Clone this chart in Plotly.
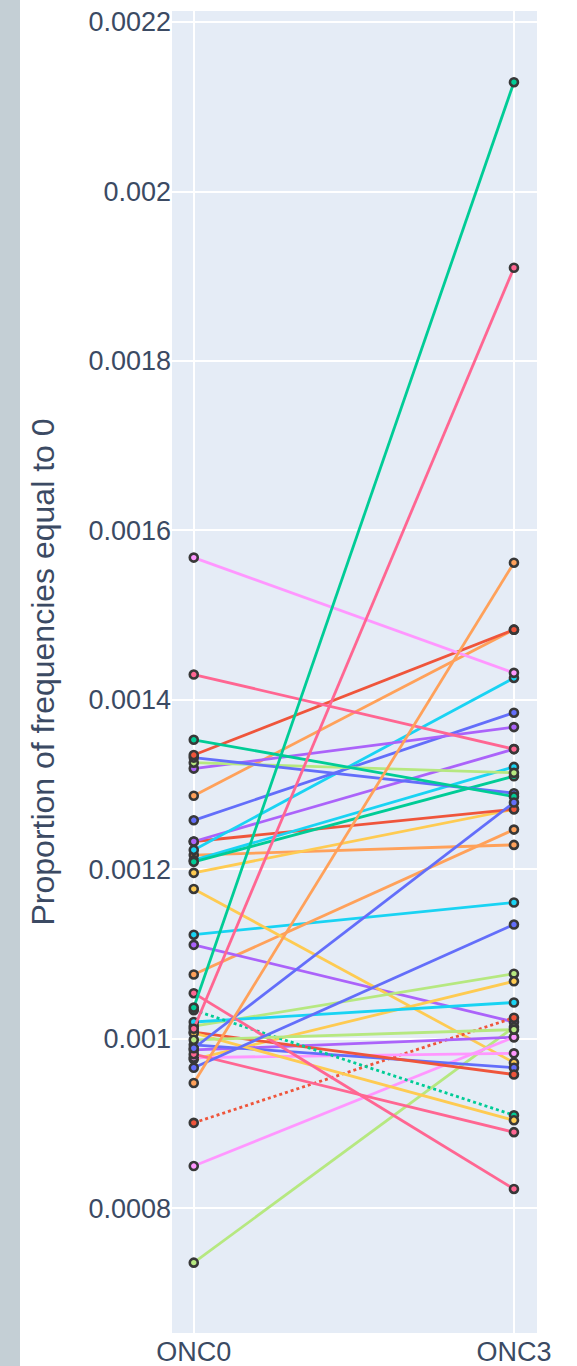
import plotly.graph_objects as go

# Two sampling stages on the x axis
stages = ["ONC0", "ONC3"]

# Proportion of frequencies equal to 0, per sample, at each stage
onc0 = [0.001217, 0.001123, 0.001076, 0.001111, 0.001177, 0.001196, 0.001233,
        0.001233, 0.001211, 0.001209, 0.001223, 0.001258, 0.001287, 0.001319,
        0.001326, 0.001332, 0.001335, 0.001353, 0.001430, 0.001568, 0.001015,
        0.000976, 0.001020, 0.000901, 0.000736, 0.000987, 0.000850, 0.000978,
        0.000993, 0.001008, 0.001034, 0.001007, 0.000982, 0.001054, 0.000999,
        0.000966, 0.000989, 0.000948, 0.001012, 0.001037]
onc3 = [0.001229, 0.001161, 0.001247, 0.001020, 0.000972, 0.001271, 0.001271,
        0.001342, 0.001321, 0.001310, 0.001426, 0.001385, 0.001483, 0.001368,
        0.001314, 0.001290, 0.001483, 0.001286, 0.001342, 0.001432, 0.001077,
        0.001068, 0.001043, 0.001025, 0.001014, 0.001002, 0.001002, 0.000983,
        0.000966, 0.000958, 0.000910, 0.000904, 0.000890, 0.000823, 0.001011,
        0.001135, 0.001279, 0.001562, 0.001910, 0.002129]

GREEN, PINK, ORANGE, RED = "#00cc96", "#FF6692", "#FFA15A", "#EF553B"
MAGENTA, CYAN, BLUE, PURPLE = "#FF97FF", "#19d3f3", "#636efa", "#ab63fa"
LIME, YELLOW = "#B6E880", "#FECB52"

line_colors = [ORANGE, CYAN, ORANGE, PURPLE, YELLOW, YELLOW, RED,
               PURPLE, CYAN, GREEN, CYAN, BLUE, ORANGE, PURPLE,
               LIME, BLUE, RED, GREEN, PINK, MAGENTA, LIME,
               YELLOW, CYAN, RED, LIME, PURPLE, MAGENTA, MAGENTA,
               BLUE, RED, GREEN, YELLOW, PINK, PINK, LIME,
               BLUE, BLUE, ORANGE, PINK, GREEN]
line_dash = ["solid"] * len(onc0)
line_dash[23] = "dot"
line_dash[30] = "dot"

fig = go.Figure()
for a, b, c, d in zip(onc0, onc3, line_colors, line_dash):
    fig.add_trace(go.Scatter(
        x=stages, y=[a, b], mode="lines+markers",
        line=dict(color=c, width=2.8, dash=d),
        marker=dict(color=c, size=8, line=dict(color="#383838", width=2.6)),
        showlegend=False,
    ))

# Grey page strip on the left edge
fig.add_shape(type="rect", xref="paper", yref="paper",
              x0=-0.48, x1=-0.4164, y0=-0.05, y1=1.05,
              fillcolor="#c4cfd5", line=dict(width=0), layer="below")

font_family = "Liberation Sans, Arial, sans-serif"
fig.update_layout(
    width=577, height=1366,
    margin=dict(l=172, r=40, t=11, b=33),
    paper_bgcolor="white", plot_bgcolor="#E5ECF6",
    font=dict(family=font_family, color="#3b4a63", size=27),
    showlegend=False,
)
fig.update_xaxes(type="category", range=[-0.068, 1.072], automargin=False,
                 showgrid=True, gridcolor="white", gridwidth=2,
                 tickfont=dict(size=27), ticks="")
fig.update_yaxes(range=[0.000653, 0.002213], automargin=False,
                 showgrid=True, gridcolor="white", gridwidth=2,
                 dtick=0.0002, tick0=0.0008, tickfont=dict(size=27),
                 title=dict(text="Proportion of frequencies equal to 0",
                            font=dict(size=32), standoff=24),
                 zeroline=False)

fig.write_html("out.html")
